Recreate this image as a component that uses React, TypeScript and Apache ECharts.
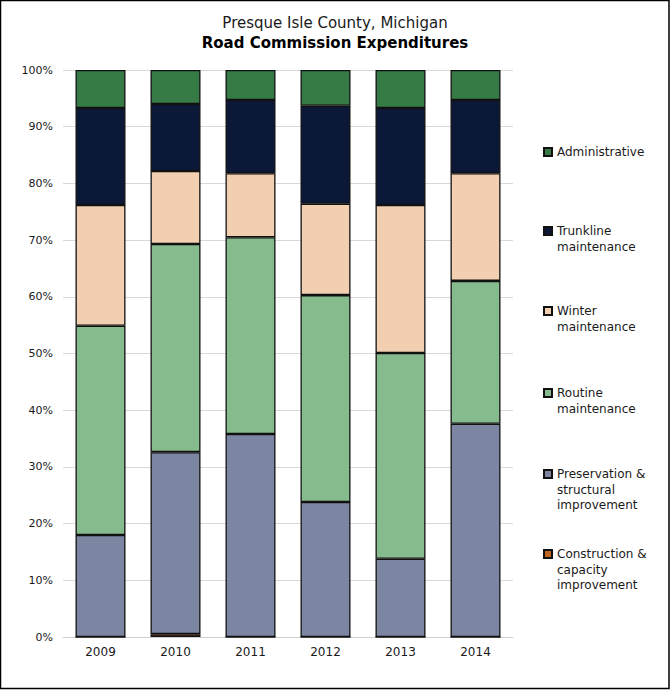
import React, { useEffect, useRef } from "react";
import * as echarts from "echarts";

const years = ["2009", "2010", "2011", "2012", "2013", "2014"];
const construction = [0, 0.5, 0, 0, 0, 0];
const preservation = [18.0, 32.1, 35.8, 23.8, 13.8, 37.6];
const routine = [36.9, 36.7, 34.7, 36.5, 36.3, 25.2];
const winter = [21.3, 12.9, 11.3, 16.1, 26.1, 19.0];
const trunkline = [17.1, 11.8, 12.9, 17.3, 17.1, 12.9];
const administrative = [6.7, 6.0, 5.3, 6.3, 6.7, 5.3];
const yTicks = [0, 10, 20, 30, 40, 50, 60, 70, 80, 90, 100];

const seriesDefs = [
  { name: "Construction & capacity improvement", label: "Construction &\ncapacity\nimprovement", data: construction, color: "#c0651f", legendY: 554, lines: 3 },
  { name: "Preservation & structural improvement", label: "Preservation &\nstructural\nimprovement", data: preservation, color: "#7c86a2", legendY: 474, lines: 3 },
  { name: "Routine maintenance", label: "Routine\nmaintenance", data: routine, color: "#86bb8e", legendY: 393, lines: 2 },
  { name: "Winter maintenance", label: "Winter\nmaintenance", data: winter, color: "#f2cfb0", legendY: 311, lines: 2 },
  { name: "Trunkline maintenance", label: "Trunkline\nmaintenance", data: trunkline, color: "#0c1838", legendY: 231, lines: 2 },
  { name: "Administrative", label: "Administrative", data: administrative, color: "#367a45", legendY: 152, lines: 1 },
];

const FONT = "DejaVu Sans";

export default function App() {
  const ref = useRef<HTMLDivElement>(null);
  useEffect(() => {
    if (!ref.current) return;
    const chart = echarts.init(ref.current, undefined, { renderer: "svg" });
    const LH = 15.5;
    const legends = seriesDefs.map((s) => {
      const totalLines = 2 * s.lines - 1;
      const prefix = "\n".repeat(s.lines - 1);
      return {
        data: [s.name],
        left: 543,
        top: s.legendY - (totalLines * LH) / 2,
        padding: 0,
        itemWidth: 8,
        itemHeight: 8,
        itemGap: 4,
        selectedMode: false,
        icon: "rect",
        formatter: () => prefix + s.label,
        textStyle: {
          fontFamily: FONT,
          fontSize: 12,
          color: "#1a1a1a",
          lineHeight: LH,
        },
      };
    });
    chart.setOption({
      animation: false,
      backgroundColor: "#ffffff",
      title: [
        {
          text: "Presque Isle County, Michigan",
          left: "center",
          top: 10,
          textStyle: { fontFamily: FONT, fontSize: 15, fontWeight: "normal", color: "#1a1a1a" },
        },
        {
          text: "Road Commission Expenditures",
          left: "center",
          top: 30,
          textStyle: { fontFamily: FONT, fontSize: 15, fontWeight: "bold", color: "#000000" },
        },
      ],
      legend: legends,
      grid: { left: 63, right: 157, top: 70, bottom: 53, containLabel: false },
      xAxis: {
        type: "category",
        data: years,
        axisLine: { show: true, lineStyle: { color: "#d0d0d0", width: 1 } },
        axisTick: { show: false },
        axisLabel: { fontFamily: FONT, fontSize: 12, color: "#1a1a1a", margin: 9 },
      },
      yAxis: {
        type: "value",
        min: 0,
        max: 100,
        interval: 10,
        axisLine: { show: false },
        axisTick: { show: false },
        splitLine: { lineStyle: { color: "#d9d9d9", width: 1 } },
        axisLabel: {
          fontFamily: FONT,
          fontSize: 11,
          color: "#1a1a1a",
          margin: 10,
          formatter: (v: number) => (yTicks.includes(v) ? v + "%" : ""),
        },
      },
      series: seriesDefs.map((s) => ({
        name: s.name,
        type: "bar",
        stack: "total",
        barWidth: 50,
        data: s.data,
        itemStyle: { color: s.color, borderColor: "#111111", borderWidth: 1.3 },
        emphasis: { disabled: true },
      })),
      graphic: [
        {
          type: "rect",
          shape: { x: 0.5, y: 0.5, width: 668.5, height: 688 },
          style: { fill: "none", stroke: "#000000", lineWidth: 1.5 },
          silent: true,
        },
      ],
    });
    return () => chart.dispose();
  }, []);
  return (
    <div
      ref={ref}
      style={{ position: "absolute", left: 0, top: 0, width: 670, height: 690 }}
    />
  );
}
